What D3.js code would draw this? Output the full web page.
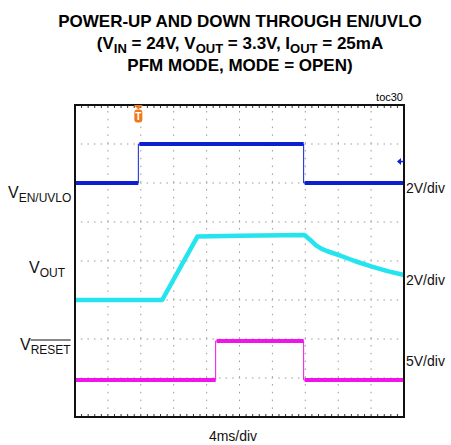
<!DOCTYPE html>
<html>
<head>
<meta charset="utf-8">
<style>
  body { margin: 0; background: #fff; }
  text { font-family: "Liberation Sans", Arial, sans-serif; }
</style>
</head>
<body>
<svg id="chart"></svg>
<script src="https://cdn.jsdelivr.net/npm/d3@7"></script>
<script>
const width = 451;
const height = 445;

// scope settings
const timePerDiv = 4;        // ms/div
const xDivs = 10;
const yDivs = 8;

// channel traces: [time ms, volts]
const enTrace = [[0, 0], [7.7, 0], [7.7, 2], [27.8, 2], [27.8, 0], [40, 0]];
const voutTrace = [[0, 0], [10.6, 0], [14.9, 3.26], [20, 3.3], [27.9, 3.33],
  [28.6, 3.08], [29.3, 2.8], [30.0, 2.62], [30.7, 2.5], [32.0, 2.31], [34.0, 2.0],
  [36.1, 1.71], [38.0, 1.48], [40, 1.28]];
const resetTrace = [[0, 0], [17.1, 0], [17.1, 5], [27.8, 5], [27.8, 0], [40, 0]];

const channels = [
  { name: "EN/UVLO", data: enTrace, ground: 6, vPerDiv: 2, scaleLabel: "2V/div", color: "#0c20d2", step: true },
  { name: "OUT", data: voutTrace, ground: 3, vPerDiv: 2, scaleLabel: "2V/div", color: "#24e4ee", step: false },
  { name: "RESET", data: resetTrace, ground: 0.95, vPerDiv: 5, scaleLabel: "5V/div", color: "#ee14ea", step: true }
];

const triggerTime = 7.7;

const svg = d3.select("#chart").attr("width", width).attr("height", height);

const plot = { left: 75, right: 404, top: 105, bottom: 417 };

const x = d3.scaleLinear().domain([0, xDivs * timePerDiv]).range([plot.left, plot.right]);
const yDiv = d3.scaleLinear().domain([0, yDivs]).range([plot.bottom, plot.top]);

// title
const title = svg.append("g").attr("font-weight", "bold").attr("font-size", 17)
  .attr("text-anchor", "middle");
title.append("text").attr("x", 240).attr("y", 27).text("POWER-UP AND DOWN THROUGH EN/UVLO");
const t2 = title.append("text").attr("x", 240).attr("y", 49);
t2.append("tspan").text("(V");
t2.append("tspan").attr("font-size", 13).attr("dy", 4).text("IN");
t2.append("tspan").attr("dy", -4).text(" = 24V, V");
t2.append("tspan").attr("font-size", 13).attr("dy", 4).text("OUT");
t2.append("tspan").attr("dy", -4).text(" = 3.3V, I");
t2.append("tspan").attr("font-size", 13).attr("dy", 4).text("OUT");
t2.append("tspan").attr("dy", -4).text(" = 25mA");
title.append("text").attr("x", 240).attr("y", 71).text("PFM MODE, MODE = OPEN)");

svg.append("text").attr("x", 403).attr("y", 101).attr("text-anchor", "end")
  .attr("font-size", 11).text("toc30");

// dotted grid
const grid = svg.append("g").attr("fill", "#9a9a9a");
d3.range(1, xDivs).forEach(i => {
  const gx = x(i * timePerDiv);
  d3.range(plot.top + 6, plot.bottom - 2, 7.8).forEach(py => {
    grid.append("rect").attr("x", gx - 0.5).attr("y", py).attr("width", 1).attr("height", 1.5);
  });
});
d3.range(1, yDivs).forEach(j => {
  const gy = yDiv(j);
  d3.range(plot.left + 6.6, plot.right - 2, 6.58).forEach(px => {
    grid.append("rect").attr("x", px - 0.75).attr("y", gy - 0.5).attr("width", 1.5).attr("height", 1);
  });
});

// minor ticks on top and bottom border
const ticks = svg.append("g").attr("stroke", "#333").attr("stroke-width", 1);
d3.range(1, xDivs * 5).forEach(k => {
  const tx = x(k * timePerDiv / 5);
  ticks.append("line").attr("x1", tx).attr("x2", tx).attr("y1", plot.top).attr("y2", plot.top + 3);
  ticks.append("line").attr("x1", tx).attr("x2", tx).attr("y1", plot.bottom).attr("y2", plot.bottom - 3);
});

// traces
const traces = svg.append("g");
channels.forEach(ch => {
  const y = v => yDiv(ch.ground + v / ch.vPerDiv);
  const line = d3.line().x(d => x(d[0])).y(d => y(d[1]));
  if (ch.step) {
    traces.append("path").datum(ch.data).attr("d", line)
      .attr("fill", "none").attr("stroke", ch.color).attr("stroke-width", 1);
    // thick noisy levels
    for (let i = 0; i < ch.data.length - 1; i++) {
      const a = ch.data[i], b = ch.data[i + 1];
      if (a[1] === b[1]) {
        traces.append("line").attr("x1", x(a[0]) + 1).attr("x2", x(b[0]))
          .attr("y1", y(a[1])).attr("y2", y(b[1]))
          .attr("stroke", ch.color).attr("stroke-width", 4);
      }
    }
  } else {
    traces.append("path").datum(ch.data).attr("d", line)
      .attr("fill", "none").attr("stroke", ch.color).attr("stroke-width", 4.5)
      .attr("stroke-linejoin", "round");
  }
});

// frame
svg.append("rect").attr("x", plot.left).attr("y", plot.top)
  .attr("width", plot.right - plot.left).attr("height", plot.bottom - plot.top)
  .attr("fill", "none").attr("stroke", "#111").attr("stroke-width", 2);

// trigger marker
const tg = svg.append("g").attr("transform", `translate(${x(triggerTime)},${plot.top})`);
tg.append("path").attr("d", "M-4.5,0 L4.5,0 L0,4.5 Z").attr("fill", "#f07818");
tg.append("rect").attr("x", -4).attr("y", 4.5).attr("width", 8).attr("height", 13).attr("rx", 3)
  .attr("fill", "#f07818");
tg.append("text").attr("x", 0).attr("y", 15).attr("text-anchor", "middle")
  .attr("font-size", 10).attr("font-weight", "bold").attr("fill", "#fff").text("T");

// channel 1 offset marker on right
const my = yDiv(6.55);
svg.append("path").attr("d", `M${plot.right - 7},${my} L${plot.right - 3},${my - 3.5} L${plot.right - 3},${my + 3.5} Z`)
  .attr("fill", "#0c20d2");
svg.append("line").attr("x1", plot.right - 3).attr("x2", plot.right).attr("y1", my).attr("y2", my)
  .attr("stroke", "#0c20d2").attr("stroke-width", 1.5);

// channel labels
const labels = svg.append("g").attr("font-size", 16).attr("fill", "#111");
const l1 = labels.append("text").attr("x", 8).attr("y", 198);
l1.append("tspan").text("V");
l1.append("tspan").attr("font-size", 12).attr("dy", 4).text("EN/UVLO");

const l2 = labels.append("text").attr("x", 29).attr("y", 273);
l2.append("tspan").text("V");
l2.append("tspan").attr("font-size", 12).attr("dy", 4).text("OUT");

const l3 = labels.append("text").attr("x", 20).attr("y", 350);
l3.append("tspan").text("V");
const rs = l3.append("tspan").attr("font-size", 12).attr("dy", 4).text("RESET");
const rsStart = l3.node().getStartPositionOfChar(1).x;
const rsLen = rs.node().getComputedTextLength();
labels.append("line").attr("x1", rsStart).attr("x2", rsStart + rsLen)
  .attr("y1", 340).attr("y2", 340).attr("stroke", "#111").attr("stroke-width", 1);

// volts/div labels
const scaleY = [193, 285, 366];
channels.forEach((ch, i) => {
  svg.append("text").attr("x", 406).attr("y", scaleY[i]).attr("font-size", 14)
    .attr("fill", "#111").text(ch.scaleLabel);
});

svg.append("text").attr("x", 233).attr("y", 441).attr("text-anchor", "middle")
  .attr("font-size", 14).attr("fill", "#111").text(`${timePerDiv}ms/div`);
</script>
</body>
</html>
